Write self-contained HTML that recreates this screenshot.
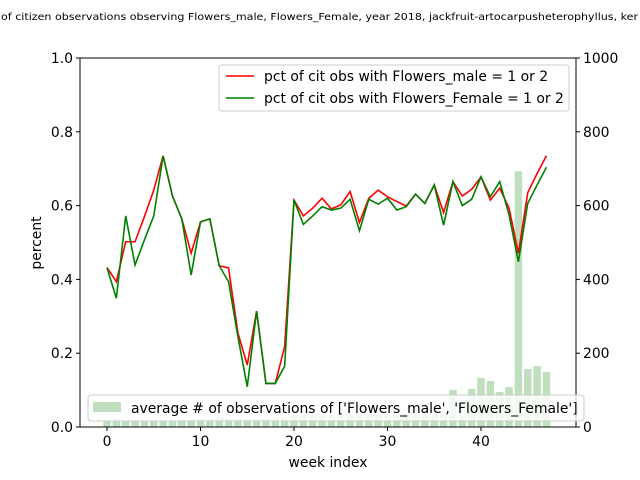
<!DOCTYPE html>
<html><head><meta charset="utf-8"><style>body{margin:0;background:#fff}svg{display:block}text{font-family:"DejaVu Sans","Liberation Sans",sans-serif}</style></head>
<body>
<svg id="chart" width="640" height="480" xmlns="http://www.w3.org/2000/svg">
<text x="1" y="20" font-size="10" textLength="637" lengthAdjust="spacingAndGlyphs">of citizen observations observing Flowers_male, Flowers_Female, year 2018, jackfruit-artocarpusheterophyllus, ker</text>
<g id="bars"></g><g id="lines"></g><g id="axes"></g>
</svg>
<script>
const weeks = Array.from({length:48},(_,i)=>i);
const maleVals = [0.432,0.394,0.502,0.502,0.57,0.642,0.735,0.626,0.564,0.471,0.556,0.564,0.437,0.431,0.255,0.168,0.314,0.118,0.118,0.218,0.615,0.572,0.593,0.62,0.591,0.602,0.638,0.554,0.62,0.642,0.624,0.611,0.599,0.631,0.606,0.656,0.581,0.665,0.626,0.644,0.678,0.615,0.647,0.593,0.471,0.635,0.687,0.735];
const femaleVals = [0.432,0.349,0.572,0.439,0.507,0.572,0.735,0.626,0.564,0.412,0.556,0.564,0.437,0.394,0.245,0.109,0.314,0.118,0.118,0.165,0.615,0.549,0.572,0.597,0.588,0.593,0.617,0.532,0.617,0.604,0.62,0.588,0.597,0.631,0.606,0.656,0.547,0.665,0.6,0.617,0.678,0.624,0.665,0.575,0.448,0.606,0.656,0.704];
const obsCounts = [15,24,15,20,15,15,15,18,20,20,22,22,28,22,22,22,22,22,25,25,30,30,32,32,32,35,35,35,35,35,35,35,35,35,35,35,40,100,30,103,133,125,95,108,693,157,165,149];
const xTicks = [0,10,20,30,40];
const yTicks = [0,0.2,0.4,0.6,0.8,1.0];
const y2Ticks = [0,200,400,600,800,1000];
const NS="http://www.w3.org/2000/svg";
const L=80,R=576,T=58,B=427;
const xs=w=>107+9.35*w;
const ys=v=>B-(B-T)*v;
const y2s=v=>B-(B-T)*v/1000;
function mk(tag,attrs,parent){const e=document.createElementNS(NS,tag);for(const k in attrs)e.setAttribute(k,attrs[k]);parent.appendChild(e);return e;}
const bars=document.getElementById('bars'),lines=document.getElementById('lines'),axes=document.getElementById('axes');
weeks.forEach((w,i)=>{const b=mk('rect',{x:xs(w)-3.75,y:y2s(obsCounts[i]),width:7.5,height:B-y2s(obsCounts[i]),fill:'#bfdfbf'},bars);

});
function line(vals,color,name){const p=mk('polyline',{points:vals.map((v,i)=>xs(weeks[i])+','+ys(v)).join(' '),fill:'none',stroke:color,'stroke-width':1.6},lines);

}
line(maleVals,'#ff0000','male-line');
line(femaleVals,'#008000','female-line');
const frame=mk('rect',{x:L,y:T,width:R-L,height:B-T,fill:'none',stroke:'#000','stroke-width':1},axes);


xTicks.forEach(t=>{mk('line',{x1:xs(t),x2:xs(t),y1:B,y2:B+4,stroke:'#000'},axes);const tx=mk('text',{x:xs(t),y:B+19,'font-size':13.9,'text-anchor':'middle'},axes);tx.textContent=t;

});
yTicks.forEach(t=>{mk('line',{x1:L-4,x2:L,y1:ys(t),y2:ys(t),stroke:'#000'},axes);const tx=mk('text',{x:L-7,y:ys(t)+5,'font-size':13.9,'text-anchor':'end'},axes);tx.textContent=t.toFixed(1);

});
y2Ticks.forEach(t=>{mk('line',{x1:R,x2:R+4,y1:y2s(t),y2:y2s(t),stroke:'#000'},axes);const tx=mk('text',{x:R+7,y:y2s(t)+5,'font-size':13.9},axes);tx.textContent=t;

});
</script>
<svg style="position:absolute;left:0;top:0" width="640" height="480" xmlns="http://www.w3.org/2000/svg">
<text x="328" y="467" font-size="13.9" text-anchor="middle">week index</text>
<text x="0" y="0" font-size="13.9" text-anchor="middle" transform="translate(41,243) rotate(-90)">percent</text>
<g>
<rect x="219" y="65" width="350" height="46" rx="3" fill="#fff" fill-opacity="0.8" stroke="#ccc"/>
<line x1="226" y1="76" x2="254" y2="76" stroke="#ff0000" stroke-width="1.6"/>
<text x="264" y="81" font-size="13.9">pct of cit obs with Flowers_male = 1 or 2</text>
<line x1="226" y1="98" x2="254" y2="98" stroke="#008000" stroke-width="1.6"/>
<text x="264" y="103" font-size="13.9">pct of cit obs with Flowers_Female = 1 or 2</text>
</g>
<g>
<rect x="88" y="395" width="496" height="26" rx="3" fill="#fff" fill-opacity="0.8" stroke="#ccc"/>
<rect x="93" y="402" width="28" height="10" fill="#bfdfbf"/>
<text x="131" y="413" font-size="13.9">average # of observations of ['Flowers_male', 'Flowers_Female']</text>
</g>
</svg>
</body></html>
